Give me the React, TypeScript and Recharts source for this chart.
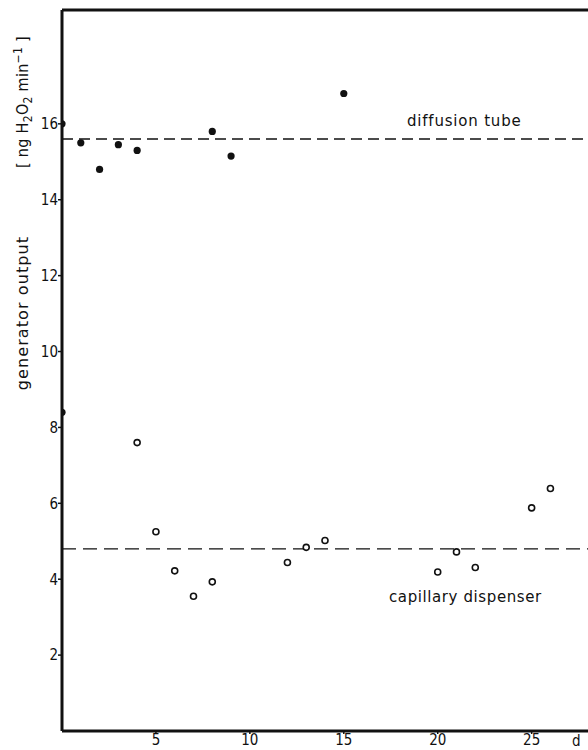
import React from 'react';
import { ScatterChart, Scatter, XAxis, YAxis, ReferenceLine } from 'recharts';

// filled dots: diffusion tube
const diffusionDays = [0, 0, 1, 2, 3, 4, 8, 9, 15];
const diffusionOutput = [16.0, 8.4, 15.5, 14.8, 15.45, 15.3, 15.8, 15.15, 16.8];

// open circles: capillary dispenser
const capillaryDays = [4, 5, 6, 7, 8, 12, 13, 14, 20, 21, 22, 25, 26];
const capillaryOutput = [7.6, 5.25, 4.22, 3.55, 3.93, 4.44, 4.84, 5.02, 4.19, 4.72, 4.31, 5.88, 6.39];

const diffusionMean = 15.6;
const capillaryMean = 4.8;

const xTicks = [5, 10, 15, 20, 25];
const yTicks = [2, 4, 6, 8, 10, 12, 14, 16];

const FONT = '"DejaVu Sans Condensed", "Liberation Sans Narrow", "DejaVu Sans", sans-serif';
const WIDE = '"DejaVu Sans", sans-serif';
const INK = '#111';

const diffusionData = diffusionDays.map((d, i) => ({ day: d, output: diffusionOutput[i] }));
const capillaryData = capillaryDays.map((d, i) => ({ day: d, output: capillaryOutput[i] }));

const FilledDot = (p: any) => <circle cx={p.cx} cy={p.cy} r={3.6} fill={INK} />;
const OpenDot = (p: any) => <circle cx={p.cx} cy={p.cy} r={3} fill="#fff" stroke={INK} strokeWidth={1.6} />;

const YLabel = () => (
  <g fill={INK}>
    <text x={0} y={0} transform="translate(28,313) rotate(-90)" textAnchor="middle" fontSize={16}
      fontFamily={WIDE} letterSpacing={1.1}>
      generator output
    </text>
    <text x={0} y={0} transform="translate(28,102) rotate(-90)" textAnchor="middle" fontSize={16}
      fontFamily={FONT} letterSpacing={0.3}>
      [ ng H<tspan fontSize={12} dy={4}>2</tspan><tspan dy={-4}>O</tspan><tspan fontSize={12} dy={4}>2</tspan>
      <tspan dy={-4}> min</tspan><tspan fontSize={12} dy={-6}>−1</tspan><tspan dy={6}> ]</tspan>
    </text>
  </g>
);

export default function App() {
  return (
    <div style={{ position: 'absolute', left: 0, top: 0, background: '#fff' }}>
      <ScatterChart width={588} height={750} margin={{ top: 10, right: 0, bottom: 0, left: 0 }}>
        <XAxis
          type="number"
          dataKey="day"
          domain={[0, 28]}
          ticks={xTicks}
          allowDataOverflow
          height={19}
          axisLine={{ stroke: INK, strokeWidth: 3 }}
          tickLine={{ stroke: INK, strokeWidth: 1.5 }}
          tickSize={3}
          tickMargin={0}
          tick={{ fill: INK, fontSize: 15, fontFamily: FONT }}
          label={(props: any) => {
            const vb = props.viewBox;
            return (
              <text x={vb.x + vb.width - 16} y={vb.y + 15} fill={INK} fontSize={15} fontFamily={FONT}>d</text>
            );
          }}
        />
        <YAxis
          type="number"
          dataKey="output"
          domain={[0, 19]}
          ticks={yTicks}
          allowDataOverflow
          width={62}
          axisLine={{ stroke: INK, strokeWidth: 3 }}
          tickLine={{ stroke: INK, strokeWidth: 1.5 }}
          tickSize={4}
          tickMargin={0}
          tick={{ fill: INK, fontSize: 15, fontFamily: FONT }}
          label={<YLabel />}
        />
        <ReferenceLine y={19} stroke={INK} strokeWidth={3} ifOverflow="visible" />
        <ReferenceLine
          y={diffusionMean}
          stroke={INK}
          strokeWidth={1.4}
          strokeDasharray="11 6"
          label={(props: any) => {
            const vb = props.viewBox;
            return (
              <text x={vb.x + 345} y={vb.y - 13} fill={INK} fontSize={15} fontFamily={WIDE} letterSpacing={0.8}>
                diffusion tube
              </text>
            );
          }}
        />
        <ReferenceLine
          y={capillaryMean}
          stroke={INK}
          strokeWidth={1.4}
          strokeDasharray="14 7"
          label={(props: any) => {
            const vb = props.viewBox;
            return (
              <text x={vb.x + 327} y={vb.y + 53} fill={INK} fontSize={15} fontFamily={WIDE} letterSpacing={0.6}>
                capillary dispenser
              </text>
            );
          }}
        />
        <Scatter data={diffusionData} shape={FilledDot} isAnimationActive={false} />
        <Scatter data={capillaryData} shape={OpenDot} isAnimationActive={false} />
      </ScatterChart>
    </div>
  );
}
